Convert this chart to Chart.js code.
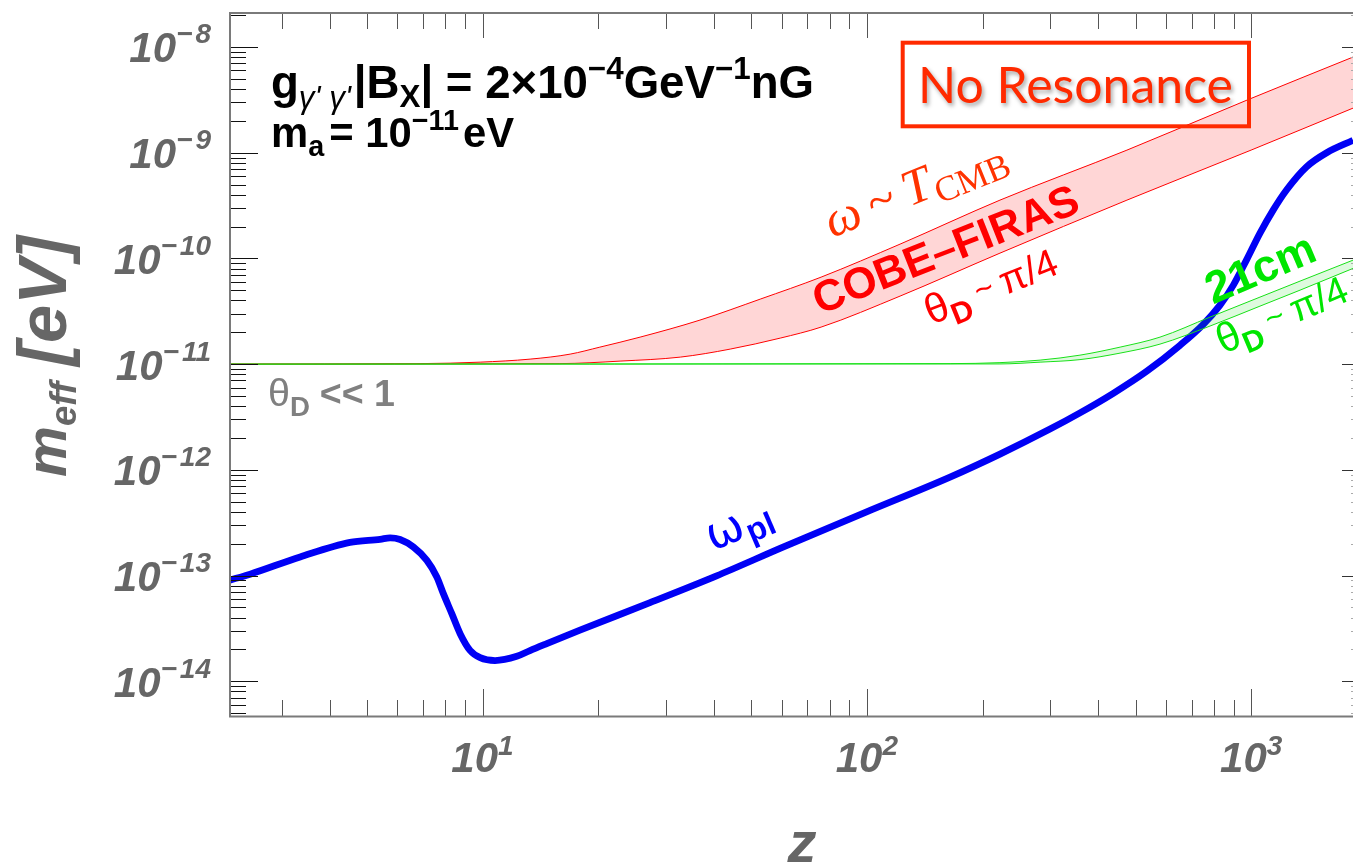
<!DOCTYPE html>
<html>
<head>
<meta charset="utf-8">
<script src="https://cdn.jsdelivr.net/npm/chart.js@4.4.1/dist/chart.umd.min.js"></script>
<style>
  html, body { margin: 0; padding: 0; background: #ffffff; overflow: hidden; }
  #wrap { width: 1353px; height: 864px; position: relative; }
</style>
</head>
<body>
<div id="wrap"><canvas id="c" width="1353" height="864"></canvas></div>
<script>
// ---- data: redshift z and effective mass m_eff [eV] ----

// plasma frequency omega_pl(z)
const plasmaZ = [2.19, 2.486, 3.354, 4.52, 5.415, 5.75, 6.105, 6.61, 7.165, 7.606, 7.91, 8.32, 8.745,
  9.28, 9.86, 10.78, 12.28, 13.29, 14.7, 17.93, 27.28, 40.5, 60.5, 99.5, 164.6, 222.0, 299.6, 358.5, 437.7,
  534.6, 652.6, 750.5, 829.5, 898.5, 973.2, 1054, 1141.5, 1237, 1394, 1572, 1840];
const plasmaM = [9.0e-14, 1.03e-13, 1.50e-13, 2.06e-13, 2.20e-13, 2.27e-13, 2.19e-13, 1.86e-13, 1.39e-13,
  9.7e-14, 6.74e-14, 4.36e-14, 2.82e-14, 1.96e-14, 1.67e-14, 1.57e-14, 1.72e-14, 1.95e-14, 2.27e-14, 3.045e-14,
  5.54e-14, 9.87e-14, 1.857e-13, 3.98e-13, 8.53e-13, 1.408e-12, 2.428e-12, 3.455e-12, 5.295e-12,
  8.55e-12, 1.506e-11, 2.379e-11, 3.615e-11, 5.59e-11, 9.74e-11, 1.735e-10, 2.88e-10, 4.465e-10,
  7.37e-10, 1.0e-9, 1.31e-9];

// COBE-FIRAS band: upper edge (omega ~ T_CMB) and lower edge (theta_D ~ pi/4)
const cobeUpperZ = [2.19, 6.88, 9.86, 13.3, 16.9, 20.2, 25.7, 36.8, 52.8, 76.0, 122, 222, 475, 975, 1840];
const cobeUpperM = [1.0e-11, 1.011e-11, 1.044e-11, 1.115e-11, 1.243e-11, 1.448e-11, 1.80e-11, 2.61e-11,
  4.12e-11, 6.65e-11, 1.365e-10, 3.56e-10, 1.058e-9, 3.145e-9, 8.03e-9];
const cobeLowerZ = [2.19, 15.9, 22.8, 32.7, 44.1, 59.5, 76.0, 122, 222, 475, 999, 1840];
const cobeLowerM = [1.0e-11, 1.011e-11, 1.068e-11, 1.165e-11, 1.387e-11, 1.762e-11, 2.239e-11, 4.40e-11,
  1.122e-10, 3.56e-10, 1.058e-9, 2.64e-9];

// 21cm band (theta_D ~ pi/4)
const h21UpperZ = [2.19, 164.7, 222, 282.3, 358.5, 455.8, 579.0, 781.1, 1054, 1340, 1840];
const h21UpperM = [1.0e-11, 1.011e-11, 1.033e-11, 1.091e-11, 1.216e-11, 1.448e-11, 1.80e-11, 2.785e-11,
  4.305e-11, 6.10e-11, 9.63e-11];
const h21LowerZ = [2.19, 222, 282.3, 358.5, 455.8, 579.0, 781.1, 1054, 1340, 1840];
const h21LowerM = [1.0e-11, 1.004e-11, 1.044e-11, 1.103e-11, 1.271e-11, 1.546e-11, 2.291e-11, 3.537e-11,
  5.01e-11, 8.04e-11];

// axis ranges and labelled decades
const zRange = [2.19, 1840];
const mRange = [4.59e-15, 2.143e-8];
const xTickExponents = [1, 2, 3];
const yTickExponents = [-14, -13, -12, -11, -10, -9, -8];

const pts = (xs, ys) => xs.map((x, i) => ({ x, y: ys[i] }));

// ---- text helpers ----
const SANS = '"Liberation Sans", Arial, sans-serif';
const SERIF = '"Liberation Serif", "Times New Roman", serif';

function runsWidth(ctx, runs) {
  let w = 0;
  for (const r of runs) { ctx.font = r.f; w += ctx.measureText(r.t).width + (r.gap || 0); }
  return w;
}
function drawRuns(ctx, runs, x, y) {
  let cx = x;
  for (const r of runs) {
    ctx.font = r.f;
    ctx.fillText(r.t, cx, y + (r.dy || 0));
    cx += ctx.measureText(r.t).width + (r.gap || 0);
  }
}
// draw a run list along a baseline: anchor, angle (deg, counter-clockwise), scale and alignment
function drawScaled(ctx, runs, bx, by, angle, s, align, color) {
  const w = runsWidth(ctx, runs);
  ctx.save();
  ctx.translate(bx, by);
  ctx.rotate(-angle * Math.PI / 180);
  ctx.scale(s, s);
  ctx.textAlign = 'left';
  ctx.textBaseline = 'alphabetic';
  ctx.fillStyle = color;
  const x0 = align === 'center' ? -w / 2 : align === 'right' ? -w : 0;
  drawRuns(ctx, runs, x0, 0);
  ctx.restore();
}
// same, but stretched so the run list spans a given length
function placeRuns(ctx, runs, bx, by, angle, length, align, color) {
  const s = length ? length / runsWidth(ctx, runs) : 1;
  drawScaled(ctx, runs, bx, by, angle, s, align, color);
  return s;
}

function logTicks(min, max) {
  const out = [];
  for (let e = Math.floor(Math.log10(min)); e <= Math.ceil(Math.log10(max)); e++) {
    for (let k = 1; k <= 9; k++) {
      const v = k * Math.pow(10, e);
      if (v >= min && v <= max) out.push({ v, major: k === 1 });
    }
  }
  return out;
}

// ---- frame with ticks on all four sides ----
const framePlugin = {
  id: 'frame',
  afterDatasetsDraw(chart) {
    const { ctx, chartArea: a, scales: { x, y } } = chart;
    ctx.save();
    ctx.lineCap = 'butt';
    for (const t of logTicks(zRange[0], zRange[1])) {
      const px = Math.round(x.getPixelForValue(t.v)) + 0.5;
      ctx.strokeStyle = '#555';
      ctx.lineWidth = 1;
      ctx.beginPath();
      ctx.moveTo(px, a.bottom); ctx.lineTo(px, a.bottom - (t.major ? 28 : 17));
      ctx.moveTo(px, a.top); ctx.lineTo(px, a.top + (t.major ? 26 : 17));
      ctx.stroke();
    }
    for (const t of logTicks(mRange[0], mRange[1])) {
      const py = Math.round(y.getPixelForValue(t.v)) + 0.5;
      ctx.strokeStyle = '#111';
      ctx.lineWidth = 1;
      ctx.beginPath();
      ctx.moveTo(a.left, py); ctx.lineTo(a.left + (t.major ? 29 : 17), py);
      ctx.stroke();
      ctx.strokeStyle = t.major ? '#333' : '#aaa';
      ctx.beginPath();
      ctx.moveTo(a.right, py); ctx.lineTo(a.right - (t.major ? 11 : 2), py);
      ctx.stroke();
    }
    ctx.strokeStyle = '#7a7a7a';
    ctx.lineWidth = 2;
    ctx.beginPath();
    ctx.moveTo(a.right + 2, a.top + 1); ctx.lineTo(a.left + 1, a.top + 1);
    ctx.lineTo(a.left + 1, a.bottom - 0.5); ctx.lineTo(a.right + 2, a.bottom - 0.5);
    ctx.stroke();
    ctx.restore();
  }
};

// ---- tick labels, axis titles and annotations ----
const labelPlugin = {
  id: 'labels',
  afterDraw(chart) {
    const { ctx, chartArea: a, scales: { x, y } } = chart;
    const grey = '#666666';
    const tickBig = 'bold italic 42px ' + SANS;
    const tickSup = 'bold italic 28px ' + SANS;
    ctx.save();
    for (const e of yTickExponents) {
      const py = y.getPixelForValue(Math.pow(10, e));
      const runs = [{ t: '10', f: tickBig }, { t: '\u2212', f: tickSup, dy: -19, gap: 3 },
        { t: String(Math.abs(e)), f: tickSup, dy: -19 }];
      drawScaled(ctx, runs, a.left - 18, py + 15.5, 0, 1, 'right', grey);
    }
    for (const e of xTickExponents) {
      const px = x.getPixelForValue(Math.pow(10, e));
      const runs = [{ t: '10', f: tickBig }, { t: String(e), f: tickSup, dy: -17 }];
      drawScaled(ctx, runs, px, a.bottom + 54.5, 0, 1, 'center', grey);
    }

    // axis titles
    placeRuns(ctx, [
      { t: 'm', f: 'bold italic 50px ' + SANS },
      { t: 'eff', f: 'bold italic 32px ' + SANS, dy: 9, gap: 14 },
      { t: '[eV]', f: 'bold italic 60px ' + SANS }
    ], 66, 477, 90, 241, 'left', grey);
    drawScaled(ctx, [{ t: 'z', f: 'bold italic 58px ' + SANS }], 802, 862, 0, 1, 'center', grey);

    // parameter text (top left)
    const b32 = 'bold 32px ' + SANS, b22 = 'bold 22px ' + SANS;
    placeRuns(ctx, [
      { t: 'g', f: b32 },
      { t: '\u03b3\' \u03b3\'', f: 'italic 22px ' + SANS, dy: 7, gap: 2 },
      { t: '|B', f: b32 },
      { t: 'X', f: b22, dy: 6 },
      { t: '| = 2\u00d710', f: b32 },
      { t: '\u22124', f: b22, dy: -13 },
      { t: 'GeV', f: b32 },
      { t: '\u22121', f: b22, dy: -13 },
      { t: 'nG', f: b32 }
    ], 271, 98, 0, 543, 'left', '#000');
    placeRuns(ctx, [
      { t: 'm', f: b32 },
      { t: 'a', f: b22, dy: 7, gap: 4 },
      { t: '= 10', f: b32 },
      { t: '\u221211', f: b22, dy: -13, gap: 3 },
      { t: 'eV', f: b32 }
    ], 271, 147, 0, 243, 'left', '#000');

    // "No Resonance" box
    const nr = '#ff2a00';
    ctx.save();
    ctx.strokeStyle = nr;
    ctx.lineWidth = 4;
    ctx.strokeRect(902.7, 42.7, 346.3, 83.6);
    ctx.shadowColor = 'rgba(0,0,0,0.35)';
    ctx.shadowBlur = 4;
    ctx.shadowOffsetX = 2;
    ctx.shadowOffsetY = 3;
    placeRuns(ctx, [{ t: 'No Resonance', f: '51px Lato, "Open Sans", sans-serif' }], 918, 103, 0, 315, 'left', nr);
    ctx.restore();

    // COBE-FIRAS band labels
    placeRuns(ctx, [
      { t: '\u03c9', f: 'italic 40px ' + SERIF, gap: 8 },
      { t: '~', f: '40px ' + SERIF, gap: 8 },
      { t: 'T', f: 'italic 40px ' + SERIF, gap: 1 },
      { t: 'CMB', f: '28px ' + SERIF, dy: 7 }
    ], 921, 202, 22, 192, 'center', '#ff3300');
    placeRuns(ctx, [{ t: 'COBE\u2013FIRAS', f: 'bold 40px ' + SANS }], 951, 263, 21.5, 282, 'center', '#ff0000');
    const thetaRuns = [
      { t: '\u03b8', f: '36px ' + SANS },
      { t: 'D', f: 'bold 26px ' + SANS, dy: 8, gap: 7 },
      { t: '~', f: '28px ' + SANS, dy: -3, gap: 7 },
      { t: '\u03c0/4', f: '34px ' + SANS }
    ];
    placeRuns(ctx, thetaRuns, 996, 299, 22, 140, 'center', '#ff0000');

    // 21cm band labels
    placeRuns(ctx, [{ t: '21cm', f: 'bold 42px ' + SANS }], 1266, 282, 23, 115, 'center', '#00e600');
    placeRuns(ctx, thetaRuns, 1287, 327, 23, 139, 'center', '#00e600');

    // small-angle label
    placeRuns(ctx, [
      { t: '\u03b8', f: '40px ' + SANS },
      { t: 'D', f: 'bold 28px ' + SANS, dy: 10, gap: 10 },
      { t: '<< 1', f: 'bold 38px ' + SANS }
    ], 268, 406, 0, 127, 'left', '#808080');

    // plasma frequency label
    placeRuns(ctx, [
      { t: '\u03c9', f: '36px "DejaVu Sans", sans-serif', gap: 1 },
      { t: 'pl', f: 'bold 26px ' + SANS, dy: 6 }
    ], 744, 538, 23, 68, 'center', '#0000ff');
    ctx.restore();
  }
};

new Chart(document.getElementById('c'), {
  type: 'line',
  data: {
    datasets: [
      { label: 'COBE-FIRAS upper', data: pts(cobeUpperZ, cobeUpperM), borderColor: '#ff0000', borderWidth: 1,
        fill: '+1', backgroundColor: 'rgba(255,0,0,0.16)', order: 5 },
      { label: 'COBE-FIRAS lower', data: pts(cobeLowerZ, cobeLowerM), borderColor: '#ff0000', borderWidth: 1,
        fill: false, order: 4 },
      { label: 'omega_pl', data: pts(plasmaZ, plasmaM), borderColor: '#0000f5', borderWidth: 6.8,
        fill: false, order: 3 },
      { label: '21cm upper', data: pts(h21UpperZ, h21UpperM), borderColor: '#18e018', borderWidth: 1,
        fill: '+1', backgroundColor: 'rgba(0,220,0,0.13)', order: 2 },
      { label: '21cm lower', data: pts(h21LowerZ, h21LowerM), borderColor: '#18e018', borderWidth: 1,
        fill: false, order: 1 }
    ]
  },
  options: {
    responsive: false,
    animation: false,
    devicePixelRatio: 1,
    layout: { padding: { top: 12, right: 0, bottom: 0, left: 0 } },
    plugins: { legend: { display: false }, tooltip: { enabled: false } },
    elements: { point: { radius: 0 }, line: { cubicInterpolationMode: 'monotone', borderCapStyle: 'butt' } },
    scales: {
      x: {
        type: 'logarithmic', min: zRange[0], max: zRange[1],
        grid: { display: false }, border: { display: false }, ticks: { display: false },
        afterFit(s) { s.height = 147; }
      },
      y: {
        type: 'logarithmic', min: mRange[0], max: mRange[1],
        grid: { display: false }, border: { display: false }, ticks: { display: false },
        afterFit(s) { s.width = 229; }
      }
    }
  },
  plugins: [framePlugin, labelPlugin]
});
</script>
</body>
</html>
